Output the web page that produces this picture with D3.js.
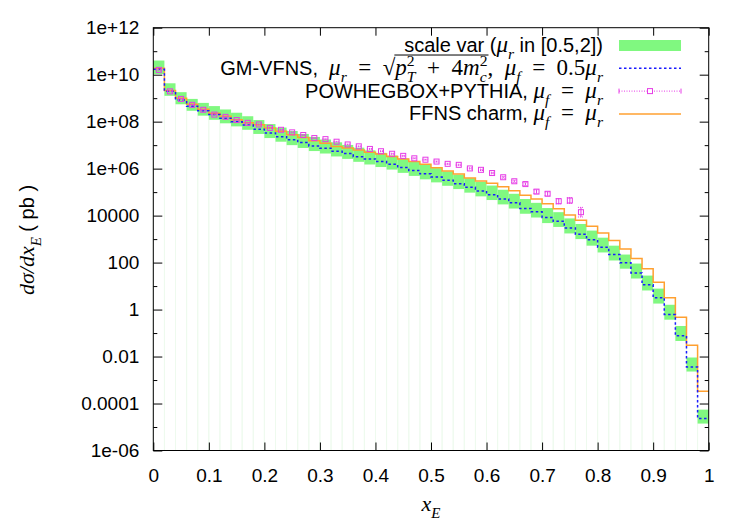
<!DOCTYPE html>
<html>
<head>
<meta charset="utf-8">
<script src="https://cdn.jsdelivr.net/npm/d3@7"></script>
<style>
  body { margin: 0; background: #fff; }
  svg { display: block; }
  text { white-space: pre; }
</style>
</head>
<body>
<svg id="chart"></svg>
<script>
// x_E bins, width 0.02
const binWidth = 0.02;
const binStarts = d3.range(50).map((i) => i * binWidth);

// scale variation band (mu_r in [0.5,2]) upper / lower edges
const bandHi = [4.0e10, 4.3e9, 1.8e9, 9.3e8, 6.3e8, 4.6e8, 3.3e8, 2.4e8, 1.7e8, 1.17e8,
  7.9e7, 5.6e7, 4.0e7, 3.0e7, 2.24e7, 1.74e7, 1.32e7, 1.02e7, 7.8e6, 6.0e6,
  4.7e6, 3.6e6, 2.7e6, 2.0e6, 1.45e6, 1.05e6, 7.6e5, 5.5e5, 3.9e5, 2.75e5,
  1.9e5, 1.26e5, 8.5e4, 5.1e4, 3.5e4, 2.1e4, 1.4e4, 7.6e3, 4.4e3, 2.3e3,
  1150, 525, 220, 91, 28, 7.8, 1.6, 0.20, 0.0091, 5.5e-5];
const bandLo = [1.07e10, 1.26e9, 5.5e8, 2.9e8, 1.8e8, 1.2e8, 8.5e7, 6.3e7, 4.5e7, 3.0e7,
  2.0e7, 1.4e7, 1.0e7, 7.6e6, 5.6e6, 4.4e6, 3.3e6, 2.6e6, 1.95e6, 1.5e6,
  1.17e6, 9.1e5, 6.6e5, 4.9e5, 3.5e5, 2.6e5, 1.86e5, 1.35e5, 9.5e4, 6.6e4,
  4.6e4, 3.0e4, 2.0e4, 1.2e4, 8.3e3, 4.8e3, 3.3e3, 1.74e3, 1.0e3, 525,
  270, 123, 55, 21, 6.5, 1.8, 0.37, 0.046, 0.0023, 1.4e-5];

// GM-VFNS central
const gmvfns = [1.7e10, 1.95e9, 8.3e8, 4.5e8, 2.9e8, 2.0e8, 1.4e8, 1.0e8, 7.2e7, 4.8e7,
  3.3e7, 2.3e7, 1.7e7, 1.3e7, 9.3e6, 7.4e6, 5.5e6, 4.4e6, 3.2e6, 2.6e6,
  2.0e6, 1.55e6, 1.12e6, 8.3e5, 6.0e5, 4.4e5, 3.2e5, 2.3e5, 1.6e5, 1.12e5,
  7.8e4, 5.1e4, 3.5e4, 2.0e4, 1.45e4, 8.3e3, 5.8e3, 3.0e3, 1.6e3, 930,
  450, 220, 98, 36, 11.5, 3.2, 0.62, 0.076, 0.0036, 2.3e-5];

// FFNS charm
const ffns = [1.9e10, 2.1e9, 9.8e8, 5.5e8, 3.4e8, 2.3e8, 1.7e8, 1.2e8, 8.9e7, 7.4e7,
  5.4e7, 3.9e7, 2.8e7, 2.1e7, 1.55e7, 1.2e7, 8.7e6, 7.6e6, 6.2e6, 5.0e6,
  4.2e6, 3.3e6, 2.6e6, 2.0e6, 1.55e6, 1.1e6, 7.9e5, 5.9e5, 4.0e5, 3.0e5,
  2.4e5, 1.7e5, 1.15e5, 7.4e4, 5.1e4, 3.2e4, 1.95e4, 1.05e4, 6.3e3, 3.5e3,
  1800, 870, 380, 150, 54, 14.5, 3.2, 0.47, 0.030, 3.3e-4];

// POWHEGBOX+PYTHIA points (first 39 bins) and relative errors
const powheg = [1.6e10, 1.95e9, 9.3e8, 5.2e8, 3.2e8, 2.0e8, 1.6e8, 1.17e8, 8.9e7, 7.6e7,
  5.4e7, 4.5e7, 3.5e7, 2.7e7, 2.0e7, 1.8e7, 1.4e7, 1.07e7, 8.9e6, 6.9e6,
  5.5e6, 4.3e6, 3.5e6, 2.75e6, 2.4e6, 2.0e6, 1.6e6, 1.45e6, 1.02e6, 8.9e5,
  6.5e5, 4.3e5, 2.9e5, 2.2e5, 1.05e5, 8.5e4, 4.1e4, 4.4e4, 1.4e4];
const powhegRelErr = [0.04, 0.04, 0.04, 0.04, 0.04, 0.04, 0.04, 0.04, 0.04, 0.04,
  0.04, 0.04, 0.04, 0.04, 0.04, 0.04, 0.04, 0.04, 0.04, 0.04,
  0.04, 0.05, 0.05, 0.05, 0.05, 0.06, 0.06, 0.06, 0.06, 0.07,
  0.08, 0.1, 0.12, 0.15, 0.2, 0.2, 0.3, 0.33, 0.6];

const xTicks = [0, 0.1, 0.2, 0.3, 0.4, 0.5, 0.6, 0.7, 0.8, 0.9, 1];
const xTickLabels = ["0", "0.1", "0.2", "0.3", "0.4", "0.5", "0.6", "0.7", "0.8", "0.9", "1"];
const yTicks = [1e12, 1e10, 1e8, 1e6, 1e4, 1e2, 1, 1e-2, 1e-4, 1e-6];
const yTickLabels = ["1e+12", "1e+10", "1e+08", "1e+06", "10000", "100", "1", "0.01", "0.0001", "1e-06"];
const yMinorTicks = [1e11, 1e9, 1e7, 1e5, 1e3, 10, 0.1, 1e-3, 1e-5];

const sans = "'Liberation Sans', Arial, sans-serif";
const serif = "'Liberation Serif', 'Times New Roman', serif";

const W = 750, H = 525;
const margin = { top: 27.7, right: 41.3, bottom: 74.5, left: 153.3 };
const width = W - margin.left - margin.right;
const height = H - margin.top - margin.bottom;

const svg = d3.select("#chart").attr("width", W).attr("height", H);
const g = svg.append("g").attr("transform", `translate(${margin.left},${margin.top})`);

const x = d3.scaleLinear().domain([0, 1]).range([0, width]);
const y = d3.scaleLog().domain([1e-6, 1e12]).range([height, 0]);

const colBand = "#80f880";
const colBlue = "#1a1aff";
const colMag = "#e63ce6";
const colOrange = "#ffa030";

// pale lines under the band boxes
binStarts.forEach((b, i) => {
  [b, b + binWidth].forEach((e) => {
    g.append("line")
      .attr("x1", x(e)).attr("x2", x(e))
      .attr("y1", y(bandLo[i])).attr("y2", height)
      .attr("stroke", "#eefaee").attr("stroke-width", 1);
  });
});

// scale variation boxes
g.selectAll(".band")
  .data(binStarts)
  .enter()
  .append("rect")
  .attr("class", "band")
  .attr("x", (d) => x(d))
  .attr("width", x(binWidth) - x(0))
  .attr("y", (d, i) => y(bandHi[i]))
  .attr("height", (d, i) => y(bandLo[i]) - y(bandHi[i]))
  .attr("fill", colBand);

// step histograms
function stepPath(vals) {
  let p = "";
  vals.forEach((v, i) => {
    const x0 = x(binStarts[i]), x1 = x(binStarts[i] + binWidth), yy = y(v);
    p += (i === 0 ? "M" : "L") + x0 + "," + yy + "L" + x1 + "," + yy;
  });
  return p;
}

g.append("path")
  .attr("d", stepPath(ffns))
  .attr("fill", "none")
  .attr("stroke", colOrange)
  .attr("stroke-width", 1.5);

g.append("path")
  .attr("d", stepPath(gmvfns))
  .attr("fill", "none")
  .attr("stroke", colBlue)
  .attr("stroke-width", 1.5)
  .attr("stroke-dasharray", "2.5,2.5");

// powheg points with error bars
const pts = g.selectAll(".pw")
  .data(powheg)
  .enter()
  .append("g")
  .attr("class", "pw")
  .attr("transform", (d, i) => `translate(${x(binStarts[i] + binWidth / 2)},0)`);

pts.append("line")
  .attr("y1", (d, i) => y(d * (1 + powhegRelErr[i])))
  .attr("y2", (d, i) => y(d / (1 + powhegRelErr[i])))
  .attr("stroke", colMag).attr("stroke-width", 1);
pts.append("line")
  .attr("x1", -3).attr("x2", 3)
  .attr("y1", (d, i) => y(d * (1 + powhegRelErr[i])))
  .attr("y2", (d, i) => y(d * (1 + powhegRelErr[i])))
  .attr("stroke", colMag).attr("stroke-width", 1).attr("stroke-dasharray", "1,1");
pts.append("line")
  .attr("x1", -3).attr("x2", 3)
  .attr("y1", (d, i) => y(d / (1 + powhegRelErr[i])))
  .attr("y2", (d, i) => y(d / (1 + powhegRelErr[i])))
  .attr("stroke", colMag).attr("stroke-width", 1).attr("stroke-dasharray", "1,1");
pts.append("rect")
  .attr("x", -2.5).attr("width", 5)
  .attr("y", (d) => y(d) - 2.5).attr("height", 5)
  .attr("fill", "none")
  .attr("stroke", colMag).attr("stroke-width", 1);

// axes (ticks inward, mirrored)
function styleAxis(sel) {
  sel.select(".domain").remove();
  sel.selectAll("line").attr("stroke", "#000");
  sel.selectAll("text")
    .attr("font-family", sans)
    .attr("font-size", 19)
    .attr("fill", "#000");
}

g.append("g")
  .attr("transform", `translate(0,${height})`)
  .call(d3.axisBottom(x).tickValues(xTicks)
    .tickFormat((d, i) => xTickLabels[i]).tickSizeInner(-8).tickSizeOuter(0).tickPadding(18))
  .call(styleAxis);
g.append("g")
  .call(d3.axisTop(x).tickValues(xTicks).tickFormat("").tickSizeInner(-8).tickSizeOuter(0))
  .call(styleAxis);

g.append("g")
  .call(d3.axisLeft(y).tickValues(yTicks)
    .tickFormat((d, i) => yTickLabels[i]).tickSizeInner(-9).tickSizeOuter(0).tickPadding(14))
  .call(styleAxis);
g.append("g")
  .call(d3.axisLeft(y).tickValues(yMinorTicks).tickFormat("").tickSizeInner(-4).tickSizeOuter(0))
  .call(styleAxis);
g.append("g")
  .attr("transform", `translate(${width},0)`)
  .call(d3.axisRight(y).tickValues(yTicks).tickFormat("").tickSizeInner(-9).tickSizeOuter(0))
  .call(styleAxis);
g.append("g")
  .attr("transform", `translate(${width},0)`)
  .call(d3.axisRight(y).tickValues(yMinorTicks).tickFormat("").tickSizeInner(-4).tickSizeOuter(0))
  .call(styleAxis);

g.append("rect")
  .attr("width", width).attr("height", height)
  .attr("fill", "none").attr("stroke", "#000").attr("stroke-width", 1);

// rich text in one <text>, tspans laid out left to right
// f: "s" sans, "i" math italic, "u" math upright; s: "sub"/"sup"; stack: sup over previous sub
function rich(parent, pieces, size, mathSize) {
  const grp = parent.append("g");
  const txt = grp.append("text").attr("fill", "#000");
  let cx = 0, prevX = 0, overStart = 0;
  const overs = [];
  pieces.forEach((p) => {
    const base = p.f === "s" ? size : mathSize;
    const fs = p.s ? base * 0.68 : base;
    const x0 = p.stack ? prevX : cx;
    const t = txt.append("tspan")
      .attr("font-family", p.f === "s" ? sans : serif)
      .attr("font-style", p.f === "i" ? "italic" : "normal")
      .attr("font-size", fs)
      .attr("x", x0)
      .attr("y", p.s === "sub" ? base * 0.3 : p.s === "sup" ? -base * 0.38 : 0)
      .text(p.t);
    const w = t.node().getComputedTextLength();
    if (p.os) overStart = x0;
    if (p.stack) cx = Math.max(cx, x0 + w);
    else { prevX = x0; cx = x0 + w; }
    if (p.oe) overs.push([overStart, cx]);
  });
  overs.forEach(([a, b]) => {
    grp.append("line")
      .attr("x1", a - 1).attr("x2", b + 1)
      .attr("y1", -mathSize * 0.86).attr("y2", -mathSize * 0.86)
      .attr("stroke", "#000").attr("stroke-width", 1);
  });
  return { grp, width: cx };
}

const sp = "\u2002"; // en space around relations
const mu = (sub) => [{ t: "μ", f: "i" }, { t: sub, f: "i", s: "sub" }];

const legendItems = [
  { key: "band", pieces: [{ t: "scale var (", f: "s" }, ...mu("r"), { t: " in [0.5,2])", f: "s" }] },
  { key: "gm", pieces: [{ t: "GM-VFNS,  ", f: "s" }, ...mu("r"), { t: sp + "=" + sp, f: "u" }, { t: "√", f: "u" },
    { t: "p", f: "i", os: true }, { t: "T", f: "i", s: "sub" }, { t: "2", f: "u", s: "sup", stack: true },
    { t: sp + "+" + sp + "4", f: "u" }, { t: "m", f: "i" }, { t: "c", f: "i", s: "sub" },
    { t: "2", f: "u", s: "sup", stack: true, oe: true },
    { t: "," + sp, f: "u" }, ...mu("f"), { t: sp + "=" + sp + "0.5", f: "u" }, ...mu("r")] },
  { key: "pw", pieces: [{ t: "POWHEGBOX+PYTHIA, ", f: "s" }, ...mu("f"), { t: sp + "=" + sp, f: "u" }, ...mu("r")] },
  { key: "ff", pieces: [{ t: "FFNS charm, ", f: "s" }, ...mu("f"), { t: sp + "=" + sp, f: "u" }, ...mu("r")] }
];

const legend = svg.append("g").attr("class", "legend");
const textRight = 603, sx0 = 619, sx1 = 681;
legendItems.forEach((item, i) => {
  const cy = 45.5 + i * 22.8;
  const r = rich(legend, item.pieces, 20, 23);
  r.grp.attr("transform", `translate(${textRight - r.width},${cy + 6.5})`);
  if (item.key === "band") {
    legend.append("rect").attr("x", sx0).attr("y", cy - 5.5)
      .attr("width", sx1 - sx0).attr("height", 11).attr("fill", colBand);
  } else if (item.key === "gm") {
    legend.append("line").attr("x1", sx0).attr("x2", sx1).attr("y1", cy).attr("y2", cy)
      .attr("stroke", colBlue).attr("stroke-width", 1.5).attr("stroke-dasharray", "2.5,2.5");
  } else if (item.key === "pw") {
    legend.append("line").attr("x1", sx0).attr("x2", sx1).attr("y1", cy).attr("y2", cy)
      .attr("stroke", colMag).attr("stroke-width", 1).attr("stroke-dasharray", "1,1.5");
    [sx0, sx1].forEach((xx) => legend.append("line").attr("x1", xx).attr("x2", xx)
      .attr("y1", cy - 2.5).attr("y2", cy + 2.5).attr("stroke", colMag).attr("stroke-width", 1));
    legend.append("rect").attr("x", (sx0 + sx1) / 2 - 2.5).attr("y", cy - 2.5)
      .attr("width", 5).attr("height", 5).attr("fill", "#fff")
      .attr("stroke", colMag).attr("stroke-width", 1);
  } else {
    legend.append("line").attr("x1", sx0).attr("x2", sx1).attr("y1", cy).attr("y2", cy)
      .attr("stroke", colOrange).attr("stroke-width", 1.5);
  }
});

// axis titles
const yt = rich(svg, [{ t: "dσ/dx", f: "i" }, { t: "E", f: "i", s: "sub" }, { t: " ( pb )", f: "s" }], 20, 22);
yt.grp.attr("transform", `translate(34,${240 + yt.width / 2}) rotate(-90)`);

const xt = rich(svg, [{ t: "x", f: "i" }, { t: "E", f: "i", s: "sub" }], 20, 22);
xt.grp.attr("transform", `translate(${431 - xt.width / 2},511)`);
</script>
</body>
</html>
